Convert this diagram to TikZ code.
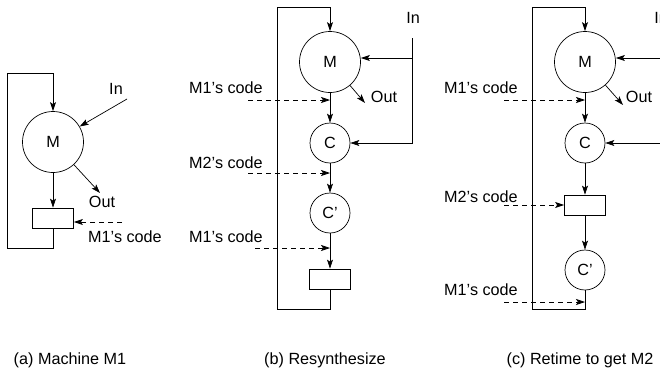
\documentclass[tikz,border=0pt]{standalone}
\usepackage{fontspec}
\setmainfont{Liberation Sans}
\usetikzlibrary{arrows.meta}

\begin{document}
\begin{tikzpicture}[x=1pt,y=-1pt,font=\fontsize{16.2}{18}\selectfont,line width=0.7pt]
  \tikzset{
    bigm/.style={draw,circle,inner sep=0pt,minimum size=61pt},
    smallc/.style={draw,circle,inner sep=0pt,minimum size=40pt},
    latch/.style={draw,rectangle,inner sep=0pt,minimum width=41pt,minimum height=20pt},
    txt/.style={inner sep=0pt},
    code/.style={->,dash pattern=on 5pt off 4pt},
    >={Stealth[length=9pt,width=6pt,inset=2pt]}
  }
  \useasboundingbox (0,0) rectangle (660,370);

  % (a) machine M1
  \node[bigm] (ma) at (53,142) {M};
  \node[latch] (ra) at (53,218) {};
  \node[txt] (inal) at (116,89) {In};
  \coordinate (ina) at (127,99);
  \coordinate (outa) at (100,193);
  \node[txt] (outal) at (102,202) {Out};
  \coordinate (codea) at (122,222);
  \node[txt] (codeal) at (125,237) {M1's code};
  \draw[->] (ma) -- (ra);
  \draw[->] (ina) -- (ma);
  \draw[->] (ma) -- (outa);
  \draw[code] (codea) -- (codea -| ra.east);
  \draw[->] (ra.south) |- (7,248) -- (7,73) -| (ma.north);

  % (b) resynthesize
  \node[bigm] (mb) at (330,62) {M};
  \node[smallc] (cb) at (330,143) {C};
  \node[smallc] (cpb) at (330,213) {C'};
  \node[latch] (rb) at (330,279) {};
  \draw[->] (mb) -- (cb);
  \draw[->] (cb) -- (cpb);
  \draw[->] (cpb) -- (rb);
  \draw[->] (rb.south) |- (277,309) -- (277,7) -| (mb.north);
  \node[txt] (inbl) at (413,18) {In};
  \coordinate (inbtop) at (412,38);
  \coordinate (inbj) at (412,58);
  \draw (inbtop) -- (inbj);
  \draw[->] (inbj) -- (inbj -| mb.east);
  \draw[->] (inbj) |- (cb.east);
  \coordinate (outb) at (365,103);
  \node[txt] (outbl) at (384,97) {Out};
  \draw[->] (mb) -- (outb);
  \coordinate (codeb1) at (248,100);
  \coordinate (codeb2) at (248,173);
  \coordinate (codeb3) at (255,248);
  \node[txt] (codeb1l) at (226,88) {M1's code};
  \node[txt] (codeb2l) at (226,163) {M2's code};
  \node[txt] (codeb3l) at (226,237) {M1's code};
  \draw[code] (codeb1) -- (codeb1 -| mb);
  \draw[code] (codeb2) -- (codeb2 -| mb);
  \draw[code] (codeb3) -- (codeb3 -| mb);

  % (c) retime to get M2
  \node[bigm] (mc) at (585,62) {M};
  \node[smallc] (cc) at (585,143) {C};
  \node[latch] (rc) at (585,205) {};
  \node[smallc] (cpc) at (585,270) {C'};
  \draw[->] (mc) -- (cc);
  \draw[->] (cc) -- (rc);
  \draw[->] (rc) -- (cpc);
  \draw[->] (cpc.south) |- (532,309) -- (532,7) -| (mc.north);
  \node[txt] (incl) at (661,18) {In};
  \coordinate (inctop) at (667,38);
  \coordinate (incj) at (667,58);
  \draw (inctop) -- (incj);
  \draw[->] (incj) -- (incj -| mc.east);
  \draw[->] (incj) |- (cc.east);
  \coordinate (outc) at (623,105);
  \node[txt] (outcl) at (639,97) {Out};
  \draw[->] (mc) -- (outc);
  \coordinate (codec1) at (504,100);
  \coordinate (codec2) at (504,205);
  \coordinate (codec3) at (504,302);
  \node[txt] (codec1l) at (481,88) {M1's code};
  \node[txt] (codec2l) at (481,197) {M2's code};
  \node[txt] (codec3l) at (481,290) {M1's code};
  \draw[code] (codec1) -- (codec1 -| mc);
  \draw[code] (codec2) -- (rc.west);
  \draw[code] (codec3) -- (codec3 -| mc);

  % captions
  \node[txt,anchor=base] (capa) at (70,364) {(a) Machine M1};
  \node[txt,anchor=base] (capb) at (325,364) {(b) Resynthesize};
  \node[txt,anchor=base] (capc) at (580,364) {(c) Retime to get M2};
\end{tikzpicture}
\end{document}
